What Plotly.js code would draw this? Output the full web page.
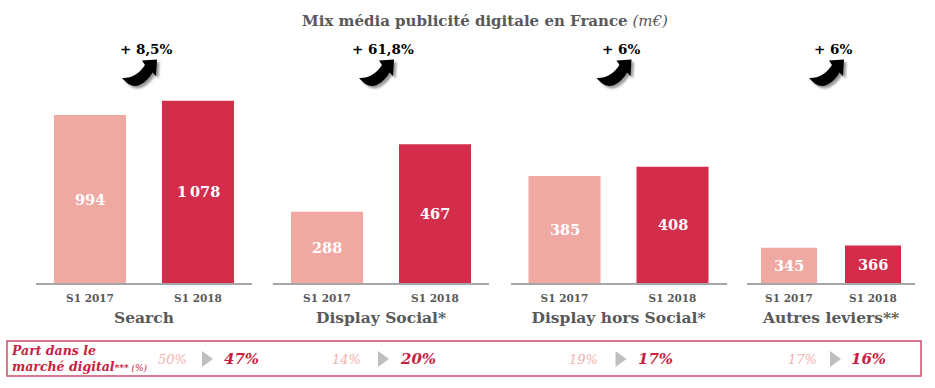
<!DOCTYPE html>
<html>
<head>
<meta charset="utf-8">
<script src="https://cdn.plot.ly/plotly-3.0.1.min.js"></script>
<style>html,body{margin:0;padding:0;background:#fff;}#chart{width:935px;height:388px;}</style>
</head>
<body>
<div id="chart"></div>
<script>
// ---- data ----
const periods = ["S1 2017", "S1 2018"];
const groups = ["Search", "Display Social*", "Display hors Social*", "Autres leviers**"];
const values2017 = [994, 288, 385, 345];
const values2018 = [1078, 467, 408, 366];
const growthLabels = ["+ 8,5%", "+ 61,8%", "+ 6%", "+ 6%"];
const share2017 = [50, 14, 19, 17];
const share2018 = [47, 20, 17, 16];

// ---- layout helpers ----
const W = 935, H = 388;
const px = p => p / W;
const py = p => 1 - p / H;
const FONT = "DejaVu Serif, Liberation Serif, serif";
const C_LIGHT = "#F0A8A2", C_DARK = "#D42C4B", GREY = "#595959";

const xDomains = [[36, 252], [273, 489], [510.5, 726.5], [747, 915]];
// per-panel value ranges (the reference panels are not on one common scale)
const yRanges = [[0, 1675], [100, 848], [121, 820], [0, 2771]];
const shareOffsets = [[28, 63, 97], [-35, 2, 37], [-35, 2, 37], [-29, 4, 37]];

const fmt = v => v >= 1000 ? Math.floor(v / 1000) + "\u2009" + String(v % 1000).padStart(3, "0") : String(v);

const traces = [];
const annotations = [];
const shapes = [];
const images = [];
const layout = {
  width: W, height: H,
  margin: {l: 0, r: 0, t: 0, b: 0},
  paper_bgcolor: "#fff", plot_bgcolor: "rgba(0,0,0,0)",
  showlegend: false,
  font: {family: FONT, color: GREY},
  title: {
    text: "<b>Mix média publicité digitale en France</b> <i>(m€)</i>",
    x: px(485), xanchor: "center", y: py(21), yanchor: "middle",
    font: {family: FONT, size: 15, color: GREY}
  }
};

const arrowPath = "M20,1.5 L35,0.5 L34,17 L30.5,13.5 C26,21.5 19,27 13,27 C8.5,27 4.5,24 0,19 C9,19.5 17,15 23,6 Z";
const arrowSvg =
  '<svg xmlns="http://www.w3.org/2000/svg" viewBox="0 0 42 34" width="42" height="34">' +
  '<defs><filter id="b" x="-30%" y="-30%" width="160%" height="160%"><feGaussianBlur stdDeviation="1.3"/></filter></defs>' +
  '<g transform="translate(2.5,2.5)" filter="url(#b)" fill="#777" opacity="0.75"><path d="' + arrowPath + '"/></g>' +
  '<path fill="#000" d="' + arrowPath + '"/>' +
  '</svg>';
const arrowSrc = "data:image/svg+xml;charset=utf-8," + encodeURIComponent(arrowSvg);

function note(o) {
  return Object.assign({xref: "paper", yref: "paper", xanchor: "center", yanchor: "middle", showarrow: false}, o);
}

groups.forEach((g, i) => {
  const n = i + 1;
  const xa = "xaxis" + (n === 1 ? "" : n), ya = "yaxis" + (n === 1 ? "" : n);
  const xr = "x" + (n === 1 ? "" : n), yr = "y" + (n === 1 ? "" : n);
  const vals = [values2017[i], values2018[i]];
  traces.push({
    type: "bar", x: periods, y: vals, xaxis: xr, yaxis: yr,
    width: 0.667, marker: {color: [C_LIGHT, C_DARK], line: {width: 0}},
    hoverinfo: "none", cliponaxis: true
  });
  layout[xa] = {
    domain: [px(xDomains[i][0]), px(xDomains[i][1])],
    anchor: yr, type: "category", range: [-0.5, 1.5],
    showline: true, linecolor: "#A6A6A6", linewidth: 1.5,
    ticks: "", showgrid: false, zeroline: false, fixedrange: true,
    ticklabelstandoff: 5,
    tickfont: {family: FONT, size: 10.5, color: GREY, weight: "bold"},
    title: {text: "<b>" + g + "</b>", font: {family: FONT, size: 15.5, color: GREY}, standoff: 9}
  };
  layout[ya] = {
    domain: [py(283), 1], anchor: xr, range: yRanges[i],
    visible: false, showgrid: false, zeroline: false, fixedrange: true
  };
  // value labels centred in the visible part of each bar
  vals.forEach((v, k) => {
    annotations.push({
      xref: xr, yref: yr, x: periods[k], y: (Math.max(yRanges[i][0], 0) + v) / 2,
      xanchor: "center", yanchor: "middle",
      text: "<b>" + fmt(v) + "</b>", showarrow: false,
      font: {family: FONT, size: 14.5, color: "#fff"}
    });
  });
  const cx = (xDomains[i][0] + xDomains[i][1]) / 2;
  // growth label + arrow
  annotations.push(note({
    x: px(cx + 2), y: py(49),
    text: "<b>" + growthLabels[i] + "</b>",
    font: {family: FONT, size: 13.5, color: "#000"}
  }));
  images.push({
    source: arrowSrc, xref: "paper", yref: "paper",
    x: px(cx - 22), y: py(59), sizex: px(42), sizey: 34 / H,
    xanchor: "left", yanchor: "top", sizing: "stretch", layer: "above"
  });
  // market share row
  const off = shareOffsets[i];
  annotations.push(note({
    x: px(cx + off[0]), y: py(359),
    text: share2017[i] + "%",
    font: {family: FONT, size: 13, color: "#F2B1AC", style: "italic"}
  }));
  annotations.push(note({
    x: px(cx + off[2]), y: py(359),
    text: "<b>" + share2018[i] + "%</b>",
    font: {family: FONT, size: 15, color: "#C8213F", style: "italic"}
  }));
  const tx = cx + off[1];
  shapes.push({
    type: "path", xref: "paper", yref: "paper",
    path: `M${px(tx - 5)},${py(351)} L${px(tx + 6)},${py(359)} L${px(tx - 5)},${py(367)} Z`,
    fillcolor: "#BFBFBF", line: {width: 0}
  });
});

// frame of the share row
shapes.push({
  type: "rect", xref: "paper", yref: "paper",
  x0: px(7), x1: px(921), y0: py(341), y1: py(376),
  line: {color: "#C9506A", width: 1.5}, fillcolor: "rgba(0,0,0,0)"
});
annotations.push(note({
  x: px(9), y: py(358), xanchor: "left", align: "left",
  text: "<b>Part dans le<br>marché digital</b><span style='font-size:9px'><b>***</b> (%)</span>",
  font: {family: FONT, size: 12.5, color: "#C8213F", style: "italic"}
}));

layout.annotations = annotations;
layout.shapes = shapes;
layout.images = images;

Plotly.newPlot("chart", traces, layout, {displayModeBar: false, staticPlot: true});
</script>
</body>
</html>
